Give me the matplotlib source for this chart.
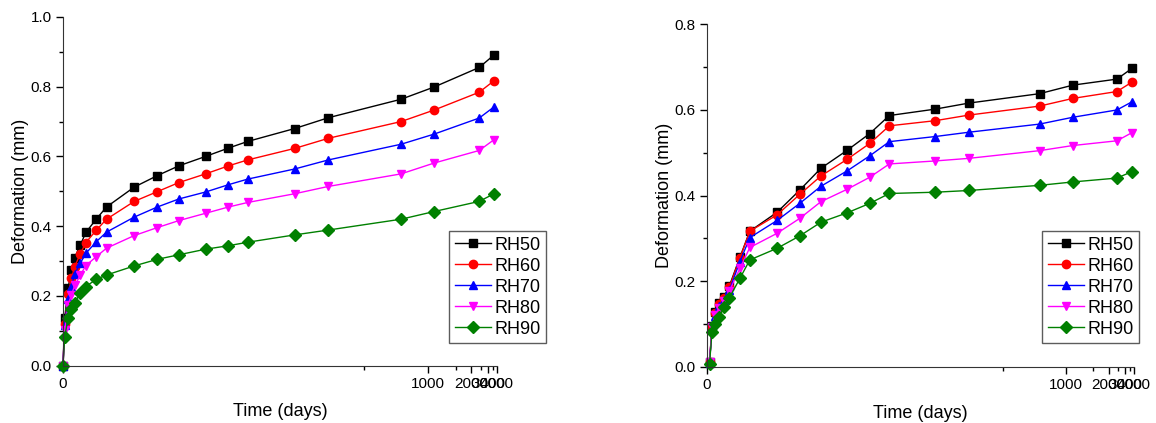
import numpy as np
import matplotlib
matplotlib.use("Agg")
import matplotlib.pyplot as plt
from matplotlib.ticker import FixedLocator, MultipleLocator

plt.rcParams['font.family'] = ['Liberation Sans', 'DejaVu Sans']

# === Data ===
labels = ['RH50', 'RH60', 'RH70', 'RH80', 'RH90']

# left panel
t_left = [0, 1, 3, 5, 7, 10.5, 14, 21, 28, 49, 69, 90, 120, 150, 179, 270, 362, 729, 1086, 2380, 3600]
rh50_left = [0, .137, .222, .275, .310, .346, .382, .421, .455, .512, .545, .573, .600, .624, .643, .680, .711, .764, .799, .855, .891]
rh60_left = [0, .120, .205, .250, .284, .321, .353, .389, .420, .471, .499, .525, .550, .573, .590, .623, .652, .700, .733, .784, .817]
rh70_left = [0, .117, .191, .227, .263, .294, .322, .356, .383, .426, .455, .478, .498, .519, .535, .564, .590, .635, .664, .710, .742]
rh80_left = [0, .103, .174, .203, .230, .260, .287, .313, .337, .373, .396, .416, .437, .455, .468, .493, .514, .550, .581, .617, .648]
rh90_left = [0, .083, .136, .162, .181, .208, .227, .248, .260, .286, .305, .318, .334, .344, .354, .375, .389, .420, .442, .471, .493]

# right panel
t_right = [1.5, 3, 5, 7.5, 10.5, 14, 21, 28, 49, 69, 90, 120, 150, 180, 271, 364, 728, 1099, 2410, 3710]
rh50_right = [.012, .095, .128, .150, .164, .190, .256, .317, .361, .413, .464, .506, .545, .587, .602, .616, .638, .658, .672, .697]
rh60_right = [.011, .093, .126, .148, .161, .187, .254, .317, .355, .403, .446, .485, .522, .563, .575, .588, .609, .627, .643, .665]
rh70_right = [.010, .090, .120, .142, .157, .180, .246, .302, .342, .382, .422, .458, .493, .526, .538, .548, .567, .583, .600, .619]
rh80_right = [.012, .094, .122, .138, .153, .178, .230, .279, .312, .347, .386, .415, .443, .474, .481, .487, .505, .517, .528, .547]
rh90_right = [.008, .082, .100, .117, .141, .162, .207, .250, .277, .306, .338, .360, .382, .405, .408, .412, .424, .432, .441, .456]

colors = ['black', '#ff0000', '#0000ff', '#ff00ff', '#008000']
markers = ['s', 'o', '^', 'v', 'D']

# compressed time axis, like the original
C = 270.0
def fwd(x):
    x = np.asarray(x, dtype=float)
    return x / (x + C)

def inv(y):
    y = np.clip(np.asarray(y, dtype=float), None, 0.999999)
    return C * y / (1 - y)


def draw(ax, t, series, ymax, legend_anchor):
    for ys, lab, c, m in zip(series, labels, colors, markers):
        ax.plot(t, ys, color=c, marker=m, markersize=6, lw=1, label=lab,
                markeredgecolor=c, clip_on=False)
    ax.set_xscale('function', functions=(fwd, inv))
    ax.set_xlim(0, 4000)
    ax.set_ylim(0, ymax)
    ax.xaxis.set_major_locator(FixedLocator([0, 1000, 2000, 3000, 4000]))
    ax.xaxis.set_minor_locator(FixedLocator([500, 1500, 2500, 3500]))
    ax.set_xticklabels(['0', '1000', '2000', '3000', '4000'])
    ax.yaxis.set_major_locator(MultipleLocator(0.2))
    ax.yaxis.set_minor_locator(MultipleLocator(0.1))
    ax.yaxis.set_major_formatter(matplotlib.ticker.FormatStrFormatter('%.1f'))
    for s in ['top', 'right']:
        ax.spines[s].set_visible(False)
    for s in ['left', 'bottom']:
        ax.spines[s].set_color('#333333')
    ax.tick_params(which='major', length=5, width=1, labelsize=11, direction='out', pad=3)
    ax.tick_params(which='minor', length=3, width=1, direction='out')
    ax.set_xlabel('Time (days)', fontsize=13, labelpad=9)
    ax.set_ylabel('Deformation (mm)', fontsize=13, labelpad=1)
    leg = ax.legend(loc='lower right', bbox_to_anchor=legend_anchor, fontsize=13,
                    frameon=True, fancybox=False, edgecolor='#333333',
                    handlelength=2.0, handletextpad=0.2, labelspacing=0.22,
                    borderpad=0.3, borderaxespad=0)
    leg.get_frame().set_linewidth(1)


fig = plt.figure(figsize=(11.56, 4.23), dpi=100)
ax1 = fig.add_axes([0.0545, 0.1355, 0.3755, 0.8245])
ax2 = fig.add_axes([0.6116, 0.1324, 0.3694, 0.8102])

draw(ax1, t_left, [rh50_left, rh60_left, rh70_left, rh80_left, rh90_left], 1.0, (1.113, 0.065))
draw(ax2, t_right, [rh50_right, rh60_right, rh70_right, rh80_right, rh90_right], 0.8, (1.012, 0.07))

fig.savefig('out.png', dpi=100)
